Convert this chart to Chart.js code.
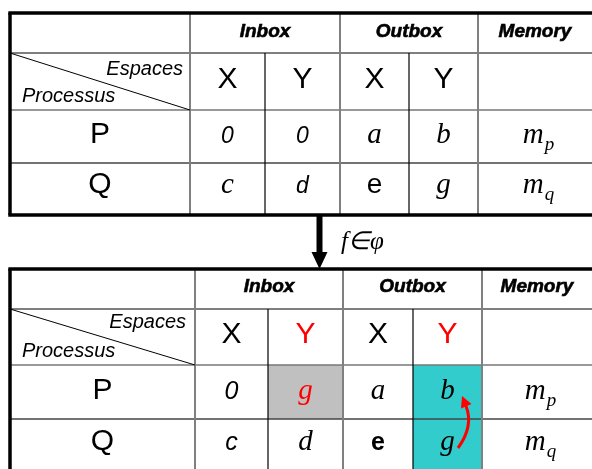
<!DOCTYPE html>
<html>
<head>
<meta charset="utf-8">
<script src="https://cdn.jsdelivr.net/npm/chart.js@4.4.0/dist/chart.umd.min.js"></script>
<style>
	html, body { margin: 0; padding: 0; background: #fff; }
	#wrap { width: 592px; height: 469px; }
</style>
</head>
<body>
<div id="wrap"><canvas id="table-chart" width="592" height="469"></canvas></div>
<script>
"use strict";

// table contents
var processes = ["P", "Q"];
var spaces = ["X", "Y"];
var groups = ["Inbox", "Outbox", "Memory"];
var cornerLabels = ["Espaces", "Processus"];
var beforeValues = [
	["0", "0", "a", "b", "m_p"],
	["c", "d", "e", "g", "m_q"]
];
var afterValues = [
	["0", "g", "a", "b", "m_p"],
	["c", "d", "e", "g", "m_q"]
];
var transition = "f\u2208\u03c6";

// layout, in the chart's own units (x 0..592, y 0..469 downwards)
var SANS = '"Liberation Sans", Arial, sans-serif';
var SERIF = '"Liberation Serif", "Times New Roman", serif';
var SANS_I = "italic 23px " + SANS;
var SANS_I2 = "italic 25px " + SANS;
var SERIF_I = "italic 29px " + SERIF;

var tables = [
	{
		values: beforeValues,
		left: 10, cols: [190, 265, 340, 409, 478], right: 600, rows: [13, 53, 110, 163, 215],
		baselines: [37, 88, 143, 193], bottomBorder: true,
		corner: [{x: 183, y: 75}, {x: 22, y: 102}],
		fonts: [[SANS_I, SANS_I, SERIF_I, SERIF_I, SERIF_I], [SERIF_I, SANS_I, "28px " + SANS, SERIF_I, SERIF_I]],
		colours: [["#000", "#000", "#000", "#000", "#000"], ["#000", "#000", "#000", "#000", "#000"]],
		fills: [[null, null, null, null, null], [null, null, null, null, null]],
		spaceColours: ["#000", "#000", "#000", "#000"]
	},
	{
		values: afterValues,
		left: 10, cols: [195, 268, 343, 413, 482], right: 600, rows: [269, 309, 365, 419, 482],
		baselines: [292, 343, 399, 450], bottomBorder: false,
		corner: [{x: 186, y: 328}, {x: 22, y: 357}],
		fonts: [[SANS_I2, SERIF_I, SERIF_I, SERIF_I, SERIF_I], [SANS_I2, SERIF_I, "bold 25px " + SANS, SERIF_I, SERIF_I]],
		colours: [["#000", "#ff0000", "#000", "#000", "#000"], ["#000", "#000", "#000", "#000", "#000"]],
		fills: [[null, "#c0c0c0", null, "#33cccc", null], [null, null, null, "#33cccc", null]],
		spaceColours: ["#000", "#ff0000", "#000", "#ff0000"]
	}
];

function drawText(ctx, text, x, y, font, colour, align) {
	ctx.font = font;
	ctx.fillStyle = colour;
	ctx.textAlign = align || "center";
	ctx.textBaseline = "alphabetic";
	ctx.fillText(text, x, y);
}

// "m_p" style values get a small subscript
function drawValue(ctx, text, x, y, font, colour) {
	var parts = text.split("_");
	if (parts.length == 1) {
		drawText(ctx, text, x, y, font, colour);
		return;
	}
	ctx.font = font;
	var w1 = ctx.measureText(parts[0]).width;
	ctx.font = "italic 19px " + SERIF;
	var w2 = ctx.measureText(parts[1]).width;
	var start = x - (w1 + w2) / 2 + 3;
	drawText(ctx, parts[0], start, y, font, colour, "left");
	drawText(ctx, parts[1], start + w1 + 1, y + 7, "italic 19px " + SERIF, colour, "left");
}

function line(ctx, x1, y1, x2, y2, width, colour) {
	ctx.beginPath();
	ctx.moveTo(x1, y1);
	ctx.lineTo(x2, y2);
	ctx.lineWidth = width;
	ctx.strokeStyle = colour;
	ctx.stroke();
}

var tablePlugin = {
	id: "tablePlugin",
	beforeDraw: function(chart) {
		var ctx = chart.ctx;
		ctx.save();
		ctx.fillStyle = "#fff";
		ctx.fillRect(0, 0, chart.width, chart.height);
		ctx.restore();
	},
	afterDraw: function(chart) {
		var ctx = chart.ctx;
		var sx = chart.scales.x, sy = chart.scales.y;
		function px(v) { return sx.getPixelForValue(v); }
		function py(v) { return sy.getPixelForValue(v); }

		ctx.save();
		tables.forEach(function(t) {
			var edges = [t.cols[0], t.cols[1], t.cols[2], t.cols[3], t.cols[4], 592];
			var top = t.rows[0], bottom = t.rows[4];

			// cell fills
			t.fills.forEach(function(row, r) {
				row.forEach(function(fill, c) {
					if (!fill) return;
					ctx.fillStyle = fill;
					ctx.fillRect(px(edges[c]), py(t.rows[r + 2]), px(edges[c + 1]) - px(edges[c]), py(t.rows[r + 3]) - py(t.rows[r + 2]));
				});
			});

			// inner grid
			line(ctx, px(t.left), py(t.rows[1]), px(t.right), py(t.rows[1]), 1.2, "#000");
			line(ctx, px(t.left), py(t.rows[2]), px(t.right), py(t.rows[2]), 1.5, "#777");
			line(ctx, px(t.left), py(t.rows[3]), px(t.right), py(t.rows[3]), 1.5, "#444");
			[0, 2, 4].forEach(function(i) {
				line(ctx, px(t.cols[i]), py(top), px(t.cols[i]), py(bottom), 2, "#808080");
			});
			[1, 3].forEach(function(i) {
				line(ctx, px(t.cols[i]), py(t.rows[1]), px(t.cols[i]), py(bottom), 1.2, "#000");
			});
			line(ctx, px(t.left), py(t.rows[1]), px(t.cols[0]), py(t.rows[2]), 1, "#000");

			// outer border
			line(ctx, px(t.left) - 1.7, py(top), px(t.right), py(top), 3.5, "#000");
			line(ctx, px(t.left), py(top), px(t.left), py(bottom), 3.5, "#000");
			if (t.bottomBorder) {
				line(ctx, px(t.left) - 1.7, py(bottom), px(t.right), py(bottom), 3.5, "#000");
			}

			// headers
			var groupEdges = [t.cols[0], t.cols[2], t.cols[4], 592];
			groups.forEach(function(g, i) {
				var gx = px((groupEdges[i] + groupEdges[i + 1]) / 2);
				drawText(ctx, g, gx, py(t.baselines[0]), "bold italic 19px " + SANS, "#000");
				ctx.lineWidth = 0.6;
				ctx.strokeStyle = "#000";
				ctx.strokeText(g, gx, py(t.baselines[0]));
			});
			for (var i = 0; i < 4; i++) {
				drawText(ctx, spaces[i % 2], px((edges[i] + edges[i + 1]) / 2), py(t.baselines[1]), "30px " + SANS, t.spaceColours[i]);
			}
			drawText(ctx, cornerLabels[0], px(t.corner[0].x), py(t.corner[0].y), "italic 20px " + SANS, "#000", "right");
			drawText(ctx, cornerLabels[1], px(t.corner[1].x), py(t.corner[1].y), "italic 20px " + SANS, "#000", "left");

			// rows
			processes.forEach(function(p, r) {
				var y = py(t.baselines[r + 2]);
				drawText(ctx, p, px((t.left + t.cols[0]) / 2), y, "30px " + SANS, "#000");
				t.values[r].forEach(function(v, c) {
					drawValue(ctx, v, px((edges[c] + edges[c + 1]) / 2), y, t.fonts[r][c], t.colours[r][c]);
				});
			});
		});

		// transition arrow between the two tables
		line(ctx, px(319.5), py(215), px(319.5), py(256), 6, "#000");
		ctx.beginPath();
		ctx.moveTo(px(311.5), py(252));
		ctx.lineTo(px(327.5), py(252));
		ctx.lineTo(px(319.5), py(269));
		ctx.closePath();
		ctx.fillStyle = "#000";
		ctx.fill();
		drawText(ctx, transition, px(341), py(249), "italic 25px " + SERIF, "#000", "left");

		// red move arrow g -> b
		ctx.beginPath();
		ctx.moveTo(px(458), py(448));
		ctx.quadraticCurveTo(px(474), py(426), px(466), py(406));
		ctx.lineWidth = 3;
		ctx.strokeStyle = "#ff0000";
		ctx.stroke();
		ctx.beginPath();
		ctx.moveTo(px(462), py(396));
		ctx.lineTo(px(471.5), py(404));
		ctx.lineTo(px(461), py(408.5));
		ctx.closePath();
		ctx.fillStyle = "#ff0000";
		ctx.fill();
		ctx.restore();
	}
};

var chart = new Chart(document.getElementById("table-chart"), {
	type: "scatter",
	data: { datasets: [{ data: [], pointRadius: 0 }] },
	options: {
		responsive: false,
		animation: false,
		devicePixelRatio: 1,
		layout: { padding: 0 },
		plugins: { legend: { display: false }, tooltip: { enabled: false } },
		scales: {
			x: { type: "linear", min: 0, max: 592, display: false },
			y: { type: "linear", min: 0, max: 469, reverse: true, display: false }
		}
	},
	plugins: [tablePlugin]
});
</script>
</body>
</html>
